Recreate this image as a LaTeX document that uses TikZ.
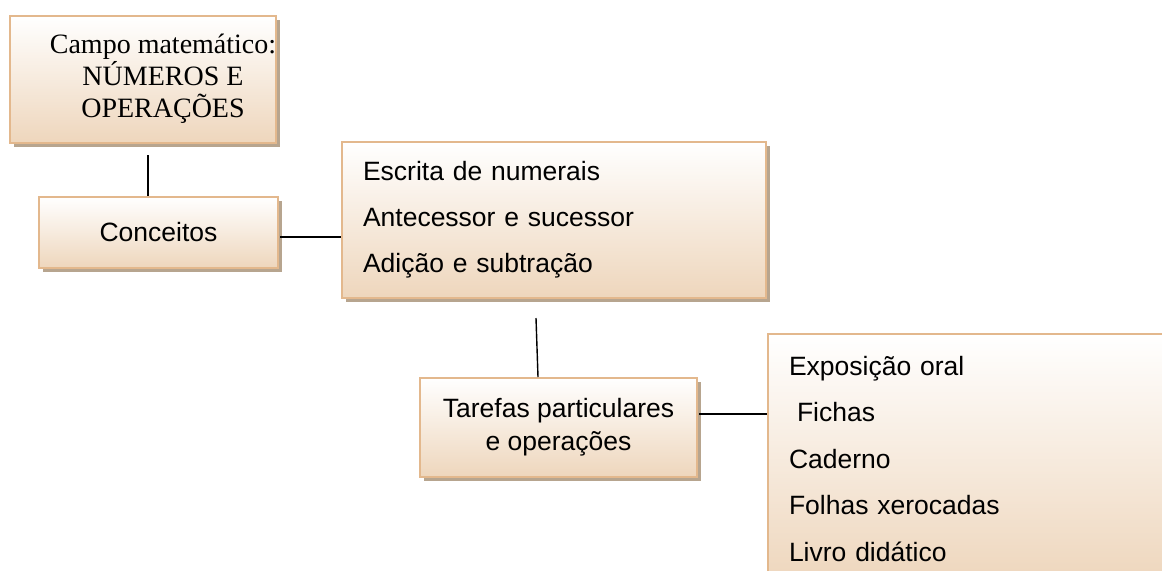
\documentclass[tikz,border=0pt]{standalone}
\usepackage{fontspec}
\setmainfont{Liberation Sans}
\newfontfamily\campofont{Liberation Serif}
\usetikzlibrary{shadows}

\definecolor{boxline}{HTML}{E3B88D}
\definecolor{boxfill}{HTML}{EED6BC}
\definecolor{boxshade}{HTML}{B7A58F}

\tikzset{
  caixa/.style={draw=boxline, line width=1pt, top color=white, bottom color=boxfill,
    drop shadow={shadow xshift=2pt, shadow yshift=-2pt, fill=boxshade, opacity=1},
    inner sep=0pt, font=\fontsize{13.25pt}{23pt}\selectfont},
  liga/.style={line width=0.7pt, black}
}

\begin{document}
\begin{tikzpicture}[x=0.5pt, y=-0.5pt]
  \useasboundingbox (0,0) rectangle (1162,570);
  \clip (0,0) rectangle (1162,570);

  % caixas
  \node[caixa, minimum width=133pt, minimum height=63.5pt] (campo) at (143,79.5) {};
  \node[font=\campofont\fontsize{14pt}{16pt}\selectfont, align=center] (campotxt) at (163,79)
    {Campo matemático:\\NÚMEROS E\\OPERAÇÕES};
  \node[caixa, minimum width=119.5pt, minimum height=35.5pt] (conc) at (158.5,232.5) {Conceitos};
  \node[caixa, text width=191pt, inner xsep=10.5pt, minimum height=78pt, align=left] (escrita) at (554,220)
    {Escrita de numerais\\Antecessor e sucessor\\Adição e subtração};
  \node[caixa, minimum width=138.5pt, minimum height=49.5pt, align=center,
    font=\fontsize{13.25pt}{16.5pt}\selectfont] (tarefas) at (558.5,427.5)
    {Tarefas particulares\\e operações};
  \node[caixa, anchor=north west, text width=200pt, inner xsep=10.5pt, minimum height=125pt, align=left,
    font=\fontsize{13.25pt}{23.25pt}\selectfont] (recursos) at (767,333)
    {Exposição oral\\\hspace*{4pt}Fichas\\Caderno\\Folhas xerocadas\\Livro didático};

  % ligacoes
  \coordinate (c1) at (148,155);
  \draw[liga] (c1) -- (c1 |- conc.north);
  \coordinate (c2) at (280,237);
  \draw[liga] (c2) -- (c2 -| escrita.west);
  \coordinate (c3) at (536,318);
  \draw[liga] (c3) -- ([xshift=-10.25pt]tarefas.north);
  \coordinate (c4) at (699,414);
  \draw[liga] (c4) -- (c4 -| recursos.west);
\end{tikzpicture}
\end{document}
